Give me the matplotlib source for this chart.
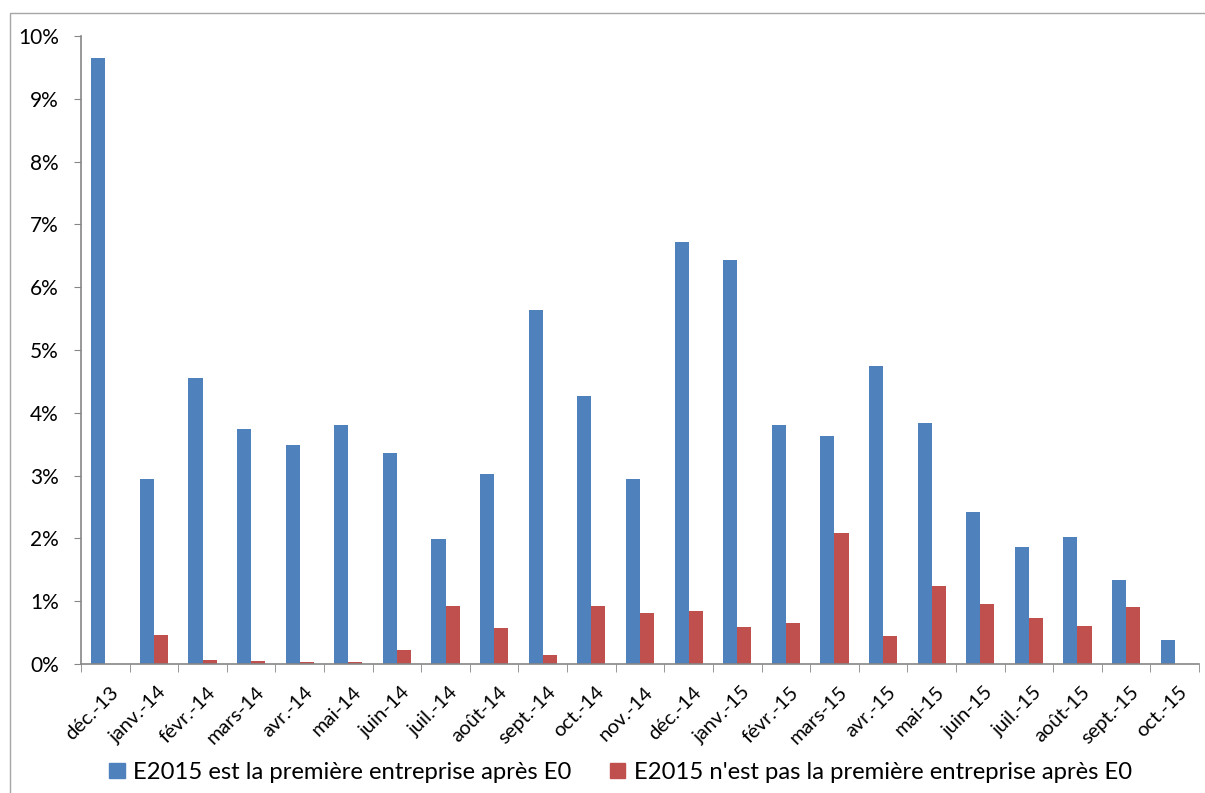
import numpy as np
import matplotlib
matplotlib.use('Agg')
import matplotlib.pyplot as plt
from matplotlib.ticker import PercentFormatter, MultipleLocator, FixedLocator
from matplotlib.patches import Rectangle, Patch
import matplotlib.transforms as mtransforms

# Donnees (en %)
mois = ['déc.-13', 'janv.-14', 'févr.-14', 'mars-14', 'avr.-14', 'mai-14',
        'juin-14', 'juil.-14', 'août-14', 'sept.-14', 'oct.-14', 'nov.-14',
        'déc.-14', 'janv.-15', 'févr.-15', 'mars-15', 'avr.-15', 'mai-15',
        'juin-15', 'juil.-15', 'août-15', 'sept.-15', 'oct.-15']
premiere = [9.65, 2.95, 4.56, 3.75, 3.48, 3.81, 3.36, 1.99, 3.02, 5.64, 4.26, 2.94,
            6.72, 6.43, 3.80, 3.63, 4.75, 3.84, 2.42, 1.86, 2.02, 1.34, 0.39]
pas_premiere = [0.0, 0.46, 0.06, 0.04, 0.035, 0.03, 0.22, 0.93, 0.58, 0.15, 0.93, 0.81,
                0.85, 0.59, 0.65, 2.09, 0.45, 1.24, 0.96, 0.74, 0.60, 0.91, 0.0]

label_bleu = 'E2015 est la première entreprise après E0'
label_rouge = "E2015 n'est pas la première entreprise après E0"

bleu = '#4F81BD'
rouge = '#C0504D'
gris = '#868686'

plt.rcParams['font.family'] = ['Lato', 'DejaVu Sans']

fig = plt.figure(figsize=(12.05, 7.93), dpi=100)
ax = fig.add_axes([81/1205, 1 - 664/793, (1199-81)/1205, (664-36)/793])

x = np.arange(len(mois))
w = 0.29
ax.bar(x - w/2, premiere, w, color=bleu, label=label_bleu)
ax.bar(x + w/2, pas_premiere, w, color=rouge, label=label_rouge)

ax.set_xlim(-0.5, len(mois) - 0.5)
ax.set_ylim(0, 10)
ax.yaxis.set_major_locator(MultipleLocator(1))
ax.yaxis.set_major_formatter(PercentFormatter(xmax=100, decimals=0))

for s in ['top', 'right']:
    ax.spines[s].set_visible(False)
for s in ['left', 'bottom']:
    ax.spines[s].set_color(gris)
    ax.spines[s].set_linewidth(1.2)

ax.tick_params(axis='y', direction='out', length=5, color=gris, labelsize=15, pad=11)
ax.set_xticks(x)
ax.set_xticklabels(mois, rotation=45, ha='right', va='top', rotation_mode='anchor', fontsize=14.5)
ax.tick_params(axis='x', length=0, pad=14)
ax.xaxis.set_minor_locator(FixedLocator(np.arange(-0.5, len(mois) + 0.5, 1)))
ax.tick_params(axis='x', which='minor', direction='out', length=6, color=gris)
offset = mtransforms.ScaledTranslation(4/100, 0, fig.dpi_scale_trans)
for lab in ax.get_xticklabels():
    lab.set_transform(lab.get_transform() + offset)

handles = [Patch(color=bleu), Patch(color=rouge)]
fig.legend(handles, [label_bleu, label_rouge], loc='center', bbox_to_anchor=(0.515, 0.026),
           ncol=2, frameon=False, fontsize=17.2, handlelength=0.65, handleheight=0.65,
           handletextpad=0.35, columnspacing=1.6)

fig.patches.append(Rectangle((10/1205, -0.1), 1.2, 1 - 13/793 + 0.1, transform=fig.transFigure,
                             fill=False, edgecolor='#A6A6A6', linewidth=1))

fig.savefig('out.png', dpi=100)
